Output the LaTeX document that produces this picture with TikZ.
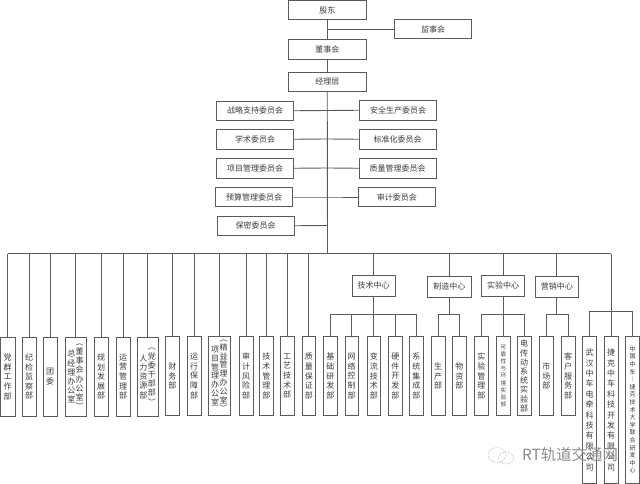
\documentclass[tikz,border=0pt]{standalone}
\usepackage{fontspec}
\setmainfont{Noto Sans CJK SC}
\definecolor{linec}{HTML}{5A5A5A}
\definecolor{textc}{HTML}{3C3C3C}
\makeatletter
\newcommand\vcol[2][9.6pt]{$\vcenter{\baselineskip=#1\relax\lineskiplimit=-20pt\lineskip=0pt\@tfor\vch:=#2\do{\hbox to 9pt{\hss\vch\hss}}}$}
\makeatother
\tikzset{
  orgbox/.style={draw=linec,line width=0.9pt,fill=white,inner sep=0pt,outer sep=0pt,text=textc,font=\fontsize{8}{9}\selectfont},
  conn/.style={draw=linec,line width=0.9pt},
  bussline/.style={draw=linec,line width=0.9pt}
}
\newcommand\bx[6]{%
  \pgfmathsetmacro\bcx{(#2+#4)/2}\pgfmathsetmacro\bcy{(#3+#5)/2}%
  \pgfmathsetmacro\bw{#4-#2}\pgfmathsetmacro\bh{#5-#3}%
  \node[orgbox,minimum width=\bw pt,minimum height=\bh pt] (#1) at (\bcx,\bcy) {#6};}
\begin{document}
\begin{tikzpicture}[x=1pt,y=-1pt]
\useasboundingbox (0,0) rectangle (640,484);
\fill[white] (0,0) rectangle (640,484);
% top column
\bx{gd}{288.5}{0.5}{366}{19.5}{股东}
\bx{js}{394.5}{19.5}{471.5}{38.5}{监事会}
\bx{ds}{288.5}{39.5}{366}{59}{董事会}
\bx{jl}{288.5}{72}{366}{91}{经理层}
% committees
\bx{zl}{216.5}{101}{293.5}{120.5}{战略支持委员会}
\bx{aq}{359.5}{100.5}{436.5}{120}{安全生产委员会}
\bx{xs}{216.5}{129.5}{293.5}{149}{学术委员会}
\bx{bz}{359}{129.5}{436}{149}{标准化委员会}
\bx{xm}{216.5}{158.5}{293.5}{178}{项目管理委员会}
\bx{zg}{359}{158.5}{436}{178}{质量管理委员会}
\bx{ys}{215.5}{187.5}{292.5}{206.5}{预算管理委员会}
\bx{sj}{358}{187.5}{435.5}{206.5}{审计委员会}
\bx{bm}{217}{216}{294}{235.5}{保密委员会}
% bus coordinates
\coordinate (bus) at (327.5,253.5);
\coordinate (jstap) at (327.5,29);
\coordinate (zlt) at (327.5,110.5);
\coordinate (xst) at (327.5,139);
\coordinate (xmt) at (327.5,168);
\coordinate (yst) at (327.5,197);
\coordinate (bmt) at (327.5,225.5);
% trunk
\draw[conn] (gd.south) -- (ds.north);
\draw[conn] (ds.south) -- (jl.north);
\draw[conn] (jl.south) -- (bus);
\draw[conn] (jstap) -- (js.west);
\draw[conn] (zl.east) -- (zlt) -- (aq.west);
\draw[conn] (xs.east) -- (xst) -- (bz.west);
\draw[conn] (xm.east) -- (xmt) -- (zg.west);
\draw[conn] (ys.east) -- (yst) -- (sj.west);
\draw[conn] (bm.east) -- (bmt);
% department row
\bx{d1}{0}{337.5}{15}{416}{\vcol{党群工作部}}
\bx{d2}{22}{337.5}{36}{416}{\vcol{纪检监察部}}
\bx{d3}{43}{337.5}{57}{416}{\vcol{团委}}
\bx{d4}{65}{337.5}{86}{416}{\vcol[9.2pt]{总经理办公室}\hspace{-0.5pt}\vcol[9.2pt]{︵董事会办公室︶}}
\bx{d5}{94}{337.5}{108}{416}{\vcol{规划发展部}}
\bx{d6}{116}{337.5}{130}{416}{\vcol{运营管理部}}
\bx{d7}{137}{337.5}{158}{416}{\vcol[9.2pt]{人力资源部}\hspace{-0.5pt}\vcol[9.2pt]{︵党委干部部︶}}
\bx{d8}{165.5}{336.5}{179}{415.5}{\vcol{财务部}}
\bx{d9}{187}{336.5}{201}{415.5}{\vcol{运行保障部}}
\bx{d10}{208.5}{336.5}{230}{415.5}{\vcol[8.8pt]{项目管理办公室}\hspace{-0.5pt}\vcol[8.8pt]{︵精益管理办公室︶}}
\bx{d11}{239}{336.5}{253}{415.5}{\vcol{审计风险部}}
\bx{d12}{259.5}{336.5}{273}{415.5}{\vcol{技术管理部}}
\bx{d13}{280}{336.5}{294}{415.5}{\vcol{工艺技术部}}
\bx{d14}{302}{336.5}{315.5}{415.5}{\vcol{质量保证部}}
% centres
\bx{c1}{352}{275}{395}{296}{技术中心}
\bx{c2}{427.5}{276}{471}{297}{制造中心}
\bx{c3}{481.5}{275}{524.5}{296}{实验中心}
\bx{c4}{535}{276}{578.5}{297}{营销中心}
% sub departments
\bx{t1}{323.5}{336.5}{337}{415.5}{\vcol{基础研发部}}
\bx{t2}{345}{336.5}{358}{415.5}{\vcol{网络控制部}}
\bx{t3}{367}{336.5}{380.5}{415.5}{\vcol{变流技术部}}
\bx{t4}{388.5}{336.5}{402}{415.5}{\vcol{硬件开发部}}
\bx{t5}{409.5}{336.5}{423}{415.5}{\vcol{系统集成部}}
\bx{m1}{431}{336.5}{445}{415.5}{\vcol{生产部}}
\bx{m2}{452.5}{336.5}{466}{415.5}{\vcol{物资部}}
\bx{e1}{474.5}{336.5}{488}{415.5}{\vcol{实验管理部}}
\bx{e2}{496.5}{336.5}{510.5}{415.5}{\fontsize{5.6}{6}\selectfont\vcol[7.2pt]{可靠性与环境实验部}}
\bx{e3}{517}{336.5}{531}{415.5}{\vcol[9.2pt]{电传动系统实验部}}
\bx{s1}{539.5}{336.5}{553}{415.5}{\vcol{市场部}}
\bx{s2}{561}{336.5}{575}{415.5}{\vcol{客户服务部}}
\bx{f1}{582.5}{336}{596.5}{483.5}{\vcol[10.4pt]{武汉中车电牵科技有限公司}}
\bx{f2}{604}{336}{618}{483.5}{\vcol[10.4pt]{捷克中车科技开发有限公司}}
\bx{f3}{625.5}{336}{639.5}{483.5}{\fontsize{6}{7}\selectfont\vcol[7.6pt]{中国中车︱捷克技术大学联合研发中心}}
% main bus
\coordinate (busl) at (d1.north|-bus);
\coordinate (busr) at (611,253.5);
\draw[bussline] (busl) -- (busr);
\foreach \n in {d1,d2,d3,d4,d5,d6,d7,d8,d9,d10,d11,d12,d13,d14}
  \draw[conn] (\n.north|-bus) -- (\n.north);
\foreach \n in {c1,c2,c3,c4}
  \draw[conn] (\n.north|-bus) -- (\n.north);
% technical centre
\coordinate (b1) at (373.5,314);
\draw[bussline] (t1.north|-b1) -- (t5.north|-b1);
\draw[conn] (c1.south) -- (c1.south|-b1);
\foreach \n in {t1,t2,t3,t4,t5} \draw[conn] (\n.north|-b1) -- (\n.north);
% manufacturing
\coordinate (b2) at (449.5,314);
\draw[bussline] (m1.north|-b2) -- (m2.north|-b2);
\draw[conn] (c2.south) -- (c2.south|-b2);
\foreach \n in {m1,m2} \draw[conn] (\n.north|-b2) -- (\n.north);
% test
\coordinate (b3) at (503,314);
\draw[bussline] (e1.north|-b3) -- (e3.north|-b3);
\draw[conn] (c3.south) -- (c3.south|-b3);
\foreach \n in {e1,e2,e3} \draw[conn] (\n.north|-b3) -- (\n.north);
% marketing
\coordinate (b4) at (557,314);
\draw[bussline] (s1.north|-b4) -- (s2.north|-b4);
\draw[conn] (c4.south) -- (c4.south|-b4);
\foreach \n in {s1,s2} \draw[conn] (\n.north|-b4) -- (\n.north);
% subsidiaries
\coordinate (b5) at (611,311);
\draw[bussline] (f1.north|-b5) -- (f3.north|-b5);
\draw[conn] (busr) -- (f2.north);
\draw[conn] (f1.north|-b5) -- (f1.north);
\draw[conn] (f3.north|-b5) -- (f3.north);
% watermark
\draw[gray!55,line width=0.7pt,densely dotted] (497,455) ellipse (9 and 7.5);
\draw[gray!55,line width=0.7pt,densely dotted] (506,458) ellipse (7.5 and 6);
\node[text=black!45,font=\fontsize{15.4}{17}\selectfont,inner sep=0pt] (wm) at (570,455) {RT轨道交通网};
\end{tikzpicture}
\end{document}
